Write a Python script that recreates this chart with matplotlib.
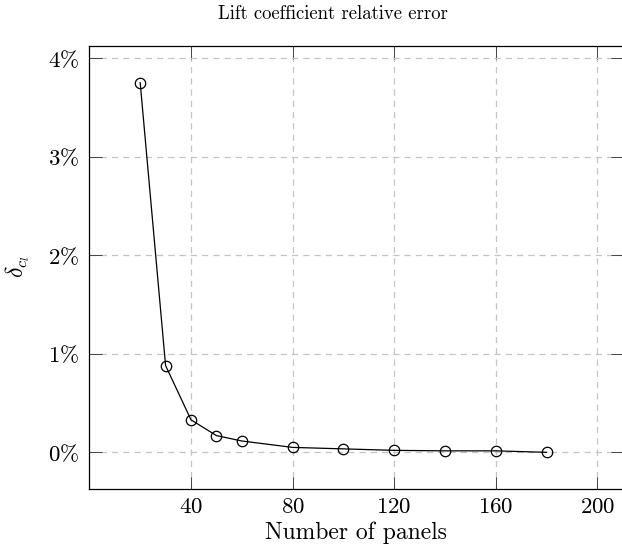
import matplotlib
matplotlib.use('Agg')
import matplotlib.pyplot as plt
from matplotlib.ticker import FuncFormatter

plt.rcParams['font.family'] = 'cmr10'
plt.rcParams['mathtext.fontset'] = 'cm'
plt.rcParams['axes.formatter.use_mathtext'] = True

# Convergence of the lift coefficient with panel count
paneles = [20, 30, 40, 50, 60, 80, 100, 120, 140, 160, 180]
error_cl = [3.75, 0.88, 0.33, 0.17, 0.115, 0.05, 0.035, 0.02, 0.015, 0.015, 0.0]

x_ticks = [40, 80, 120, 160, 200]
y_ticks = [0, 1, 2, 3, 4]

fig = plt.figure(figsize=(6.22, 5.53), dpi=100)
ax = fig.add_axes([0.1437, 0.1152, 0.8576, 0.8022])

ax.plot(paneles, error_cl, color='black', linewidth=0.9,
        marker='o', markersize=7.5, markerfacecolor='none',
        markeredgecolor='black', markeredgewidth=0.9, zorder=3)

ax.set_xlim(0, 210)
ax.set_ylim(-0.375, 4.125)
ax.set_xticks(x_ticks)
ax.set_yticks(y_ticks)
ax.yaxis.set_major_formatter(FuncFormatter(lambda v, p: r'$%d\%%$' % v))
ax.xaxis.set_major_formatter(FuncFormatter(lambda v, p: r'$%d$' % v))

ax.tick_params(direction='in', length=9, width=0.7, labelsize=16.5,
               top=True, right=True, pad=6, color='#444444')
ax.tick_params(axis='y', pad=7)
for s in ax.spines.values():
    s.set_linewidth(0.9)

ax.grid(True, color='#c4c4c4', linestyle=(0, (5, 4)), linewidth=0.9)
ax.set_axisbelow(True)

ax.set_xlabel('Number of panels', fontsize=17, labelpad=3)

# etiqueta del eje y y titulo colocados a mano
fig.text(18 / 622, 1 - 267 / 553, r'$\delta_{c_l}$', rotation=90,
         ha='center', va='center', fontsize=17)
fig.text(333 / 622, 1 - 14 / 553, 'Lift coefficient relative error',
         ha='center', va='center', fontsize=13.5)

plt.savefig('out.png', dpi=100)
